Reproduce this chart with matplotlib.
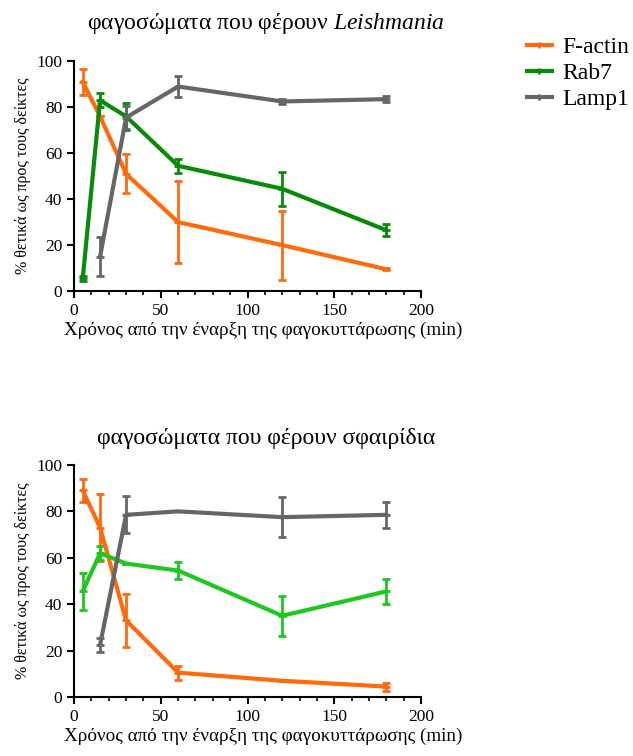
import numpy as np
import matplotlib.pyplot as plt
from matplotlib.ticker import MultipleLocator
from matplotlib.lines import Line2D

plt.rcParams['font.family'] = ['Liberation Serif', 'DejaVu Serif']
plt.rcParams['mathtext.fontset'] = 'custom'
plt.rcParams['mathtext.it'] = 'Liberation Serif:italic'
plt.rcParams['mathtext.rm'] = 'Liberation Serif'

# time points (min)
t = [5, 15, 30, 60, 120, 180]

# Leishmania phagosomes
leish_factin = [91, 76, 51, 30, 20, 9.5]
leish_factin_err = [5.5, 0, 8.5, 18, 15, 0.5]
leish_rab7 = [5.5, 83, 76, 54.5, 44.5, 26.5]
leish_rab7_err = [1, 3, 6, 3, 7.5, 2.5]
t_lamp = [15, 30, 60, 120, 180]
leish_lamp1 = [15, 75.5, 89, 82.5, 83.5]
leish_lamp1_err = [8.5, 5, 4.5, 1, 1.3]

# bead phagosomes
bead_factin = [89, 73, 33, 10.5, 7, 4.5]
bead_factin_err = [5, 14.5, 11.5, 3, 0, 1.7]
bead_rab7 = [45.5, 62, 57.5, 54.5, 35, 45.5]
bead_rab7_err = [8, 3, 0, 3.5, 8.5, 5.5]
bead_lamp1 = [22.5, 78.5, 80, 77.5, 78.5]
bead_lamp1_err = [3, 8, 0, 8.5, 5.5]

orange = '#ff6a0d'
dgreen = '#0a8a0a'
lgreen = '#1ec81e'
grey = '#666666'

fig = plt.figure(figsize=(6.33, 7.56), dpi=100)
ax1 = fig.add_axes([0.117, 0.615, 0.548, 0.304])
ax2 = fig.add_axes([0.117, 0.078, 0.548, 0.307])

kw = dict(lw=3, elinewidth=2, capsize=3, capthick=2, marker='_', ms=6, mew=2)

def style(ax, title, pad):
    ax.set_xlim(0, 200)
    ax.set_ylim(0, 100)
    ax.xaxis.set_major_locator(MultipleLocator(50))
    ax.xaxis.set_minor_locator(MultipleLocator(10))
    ax.yaxis.set_major_locator(MultipleLocator(20))
    for s in ['top', 'right']:
        ax.spines[s].set_visible(False)
    for s in ['left', 'bottom']:
        ax.spines[s].set_linewidth(1.5)
    ax.tick_params(which='major', width=1.5, length=5, labelsize=12.5)
    ax.tick_params(which='minor', width=1.2, length=3)
    ax.set_xlabel('Χρόνος από την έναρξη της φαγοκυττάρωσης (min)',
                  fontsize=13.8, labelpad=2, x=0.545)
    ax.set_ylabel('% θετικά ως προς τους δείκτες', fontsize=11.5, labelpad=4)
    ax.set_title(title, fontsize=17, pad=pad, x=0.553)

ax1.errorbar(t, leish_factin, yerr=leish_factin_err, color=orange, **kw)
ax1.errorbar(t, leish_rab7, yerr=leish_rab7_err, color=dgreen, **kw)
ax1.errorbar(t_lamp, leish_lamp1, yerr=leish_lamp1_err, color=grey, **kw)
style(ax1, 'φαγοσώματα που φέρουν $\\mathit{Leishmania}$', 23.5)

ax2.errorbar(t, bead_factin, yerr=bead_factin_err, color=orange, **kw)
ax2.errorbar(t, bead_rab7, yerr=bead_rab7_err, color=lgreen, **kw)
ax2.errorbar(t_lamp, bead_lamp1, yerr=bead_lamp1_err, color=grey, **kw)
style(ax2, 'φαγοσώματα που φέρουν σφαιρίδια', 15)

labels = ['F-actin', 'Rab7', 'Lamp1']
handles = [Line2D([], [], color=c, lw=3, marker='|', ms=5, mew=2)
           for c in [orange, dgreen, grey]]
fig.legend(handles=handles, labels=labels, loc='upper left',
           bbox_to_anchor=(0.8325, 0.952), frameon=False, fontsize=17,
           handlelength=1.06, handletextpad=0.45, labelspacing=0.2,
           borderaxespad=0, borderpad=0)

fig.savefig('out.png', dpi=100)
